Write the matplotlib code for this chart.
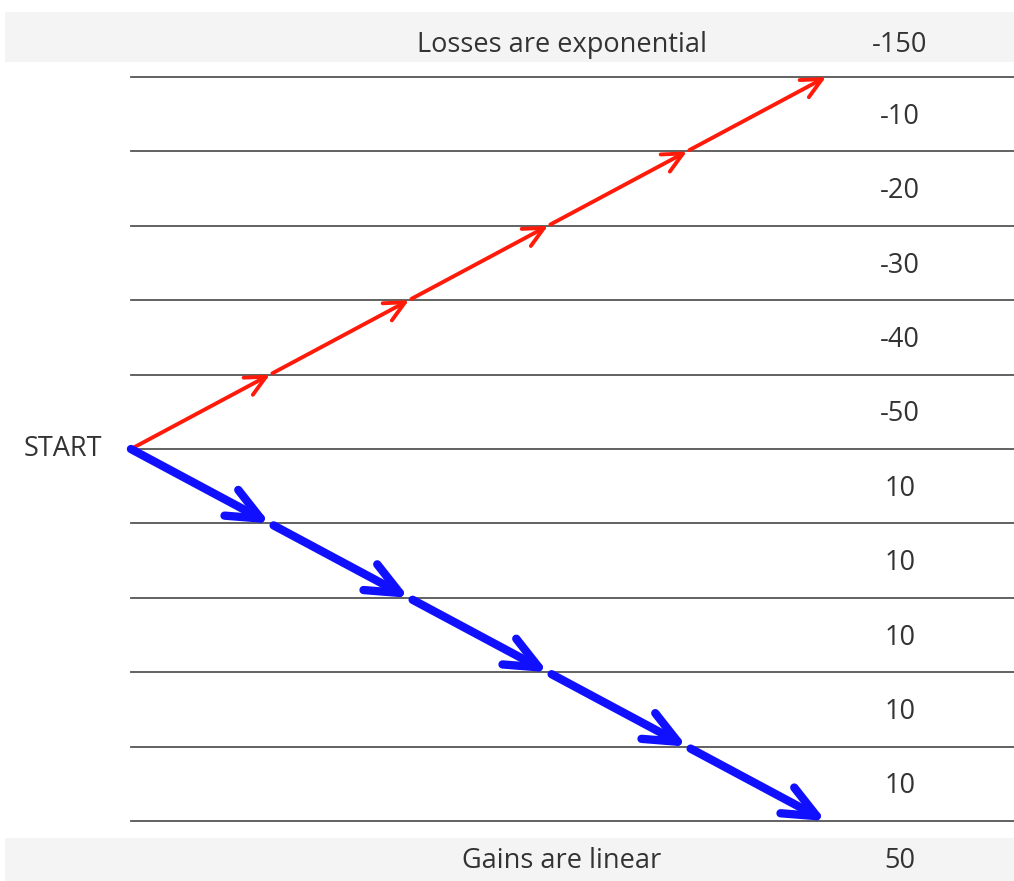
import matplotlib.pyplot as plt
from matplotlib.patches import Rectangle

# ===== DONNEES ===== #
# valeurs lues de haut en bas
loss_labels = ["-10", "-20", "-30", "-40", "-50"]
gain_labels = ["10", "10", "10", "10", "10"]
loss_total = "-150"
gain_total = "50"
title_top = "Losses are exponential"
title_bottom = "Gains are linear"

n = len(loss_labels)

plt.rcParams['font.family'] = ['Open Sans', 'DejaVu Sans']

fig = plt.figure(figsize=(10.14, 8.81), dpi=100)
ax = fig.add_axes([0, 0, 1, 1])
ax.set_xlim(-0.942, 6.353)
ax.set_ylim(-5.806, 6.035)
ax.axis('off')

# bandes grises en haut et en bas
ax.add_patch(Rectangle((0.005, 1 - 62 / 881), 0.995, 50 / 881, transform=ax.transAxes,
                       color='#f4f4f4', zorder=0, lw=0))
ax.add_patch(Rectangle((0.005, 0), 0.995, 43 / 881, transform=ax.transAxes,
                       color='#f4f4f4', zorder=0, lw=0))

# lignes horizontales
for lev in range(-n, n + 1):
    ax.plot([0, 6.353], [lev, lev], color='#555555', lw=1.3, zorder=1)

# fleches rouges (pertes) et bleues (gains)
for i in range(n):
    ax.annotate("", xy=(i + 1, i + 1), xytext=(i, i),
                arrowprops=dict(arrowstyle='->,head_length=1.45,head_width=0.7',
                                color='#ff1a0a', lw=2.8, shrinkA=2 if i else 0, shrinkB=0),
                zorder=3)
    ax.annotate("", xy=(i + 1, -(i + 1)), xytext=(i, -i),
                arrowprops=dict(arrowstyle='->,head_length=2.4,head_width=1.05',
                                color='#1010ff', lw=6, shrinkA=3 if i else 0, shrinkB=0,
                                capstyle='round', joinstyle='round'),
                zorder=3)

# textes
txt = dict(ha='center', va='center', fontsize=19.5, color='#333333')
lab_x = 5.53
dy = -0.035
for i, lab in enumerate(loss_labels):
    ax.text(lab_x, n - i - 0.5 + dy, lab, **txt)
for i, lab in enumerate(gain_labels):
    ax.text(lab_x, -i - 0.5 + dy, lab, **txt)
ax.text(lab_x, n + 0.47 + dy, loss_total, **txt)
ax.text(lab_x, -n - 0.5 + dy, gain_total, **txt)
ax.text(3.10, n + 0.47 + dy, title_top, **txt)
ax.text(3.10, -n - 0.5 + dy, title_bottom, **txt)
ax.text(-0.49, 0, "START", **txt)

fig.savefig("out.png", dpi=100)
